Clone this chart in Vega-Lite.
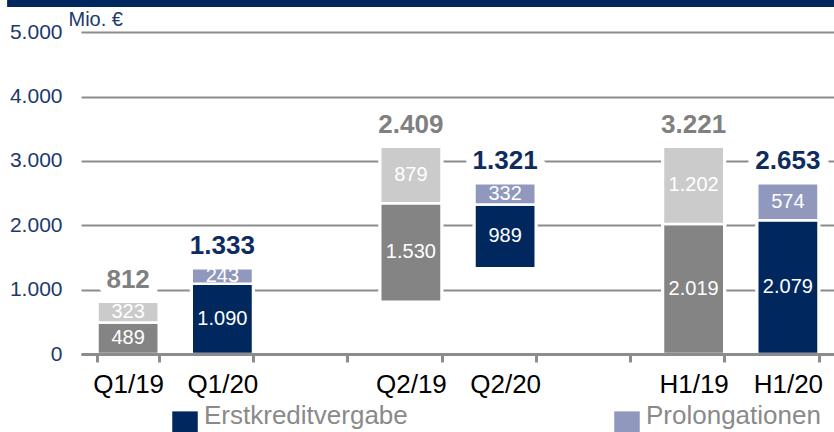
{
  "$schema": "https://vega.github.io/schema/vega-lite/v6.json",
  "width": 754,
  "height": 354,
  "autosize": {"type": "none"},
  "padding": {"left": 81, "top": 0, "right": 0, "bottom": 78},
  "background": "white",
  "config": {
    "locale": {"number": {"decimal": ",", "thousands": ".", "grouping": [3], "currency": ["", " €"]}},
    "font": "Liberation Sans",
    "view": {"stroke": null}
  },
  "datasets": {
    "segments": [
      {"period": "Q1/19", "year": 2019, "segment": "Erstkreditvergabe 2019", "value": 489},
      {"period": "Q1/19", "year": 2019, "segment": "Prolongationen 2019", "value": 323},
      {"period": "Q1/20", "year": 2020, "segment": "Erstkreditvergabe", "value": 1090},
      {"period": "Q1/20", "year": 2020, "segment": "Prolongationen", "value": 243},
      {"period": "Q2/19", "year": 2019, "segment": "Basis", "value": 812},
      {"period": "Q2/19", "year": 2019, "segment": "Erstkreditvergabe 2019", "value": 1530},
      {"period": "Q2/19", "year": 2019, "segment": "Prolongationen 2019", "value": 879},
      {"period": "Q2/20", "year": 2020, "segment": "Basis", "value": 1333},
      {"period": "Q2/20", "year": 2020, "segment": "Erstkreditvergabe", "value": 989},
      {"period": "Q2/20", "year": 2020, "segment": "Prolongationen", "value": 332},
      {"period": "H1/19", "year": 2019, "segment": "Erstkreditvergabe 2019", "value": 2019},
      {"period": "H1/19", "year": 2019, "segment": "Prolongationen 2019", "value": 1202},
      {"period": "H1/20", "year": 2020, "segment": "Erstkreditvergabe", "value": 2079},
      {"period": "H1/20", "year": 2020, "segment": "Prolongationen", "value": 574}
    ]
  },
  "layer": [
    {
      "data": {"values": [{"band": "top"}]},
      "mark": {"type": "rect", "color": "#00285e", "clip": false},
      "encoding": {
        "x": {"datum": -0.098, "type": "quantitative", "scale": {"domain": [0, 1]}, "axis": null},
        "x2": {"datum": 1.01},
        "y": {"datum": 5390, "type": "quantitative"},
        "y2": {"datum": 5500}
      }
    },
    {
      "data": {"name": "segments"},
      "transform": [
        {"stack": "value", "groupby": ["period"], "sort": [{"field": "segment", "order": "ascending"}], "as": ["v0", "v1"]},
        {"filter": "datum.segment !== 'Basis'"}
      ],
      "encoding": {
        "x": {
          "field": "period",
          "type": "nominal",
          "scale": {
            "domain": ["Q1/19", "Q1/20", "gap1", "Q2/19", "Q2/20", "gap2", "H1/19", "H1/20"],
            "paddingInner": 0.35,
            "paddingOuter": 0.175
          },
          "axis": {
            "title": null,
            "labelExpr": "substring(datum.label, 0, 3) === 'gap' ? '' : datum.label",
            "labelAngle": 0,
            "labelFontSize": 26,
            "labelColor": "#000000",
            "labelPadding": 9,
            "domainColor": "#8c8c8c",
            "domainWidth": 3,
            "tickColor": "#8c8c8c",
            "tickWidth": 3,
            "tickSize": 8,
            "tickBand": "extent",
            "grid": false,
            "zindex": 1
          }
        }
      },
      "layer": [
        {
          "mark": {"type": "bar", "fill": "white", "stroke": "white", "strokeWidth": 4},
          "encoding": {
            "y": {
              "field": "v0",
              "type": "quantitative",
              "scale": {"domain": [0, 5500], "nice": false},
              "axis": {
                "values": [0, 1000, 2000, 3000, 4000, 5000],
                "format": ",d",
                "grid": true,
                "gridColor": "#8c8c8c",
                "gridWidth": 2,
                "domain": false,
                "ticks": false,
                "labelFontSize": 21,
                "labelColor": "#1a3a6b",
                "labelPadding": 19,
                "title": "Mio. €",
                "titleAngle": 0,
                "titleFontSize": 20,
                "titleFontWeight": "normal",
                "titleColor": "#1a3a6b",
                "titleAlign": "left",
                "titleBaseline": "alphabetic",
                "titleX": -13,
                "titleY": 25,
                "zindex": 0
              }
            },
            "y2": {"field": "v1"}
          }
        },
        {
          "mark": {"type": "bar", "stroke": "white", "strokeWidth": 2.5},
          "encoding": {
            "y": {"field": "v0", "type": "quantitative"},
            "y2": {"field": "v1"},
            "color": {
              "field": "segment",
              "type": "nominal",
              "scale": {
                "domain": ["Erstkreditvergabe", "Prolongationen", "Erstkreditvergabe 2019", "Prolongationen 2019"],
                "range": ["#00285e", "#9098be", "#848484", "#cbcbcb"]
              },
              "legend": {
                "values": ["Erstkreditvergabe", "Prolongationen"],
                "orient": "none",
                "legendX": 91,
                "legendY": 411,
                "direction": "horizontal",
                "title": null,
                "symbolType": "square",
                "symbolSize": 650,
                "symbolStrokeWidth": 0,
                "labelFontSize": 26,
                "labelColor": "#8a8a8a",
                "labelLimit": 400,
                "labelOffset": 6,
                "labelBaseline": "alphabetic",
                "columnPadding": 206,
                "padding": 0
              }
            }
          }
        },
        {
          "transform": [{"calculate": "(datum.v0 + datum.v1) / 2", "as": "mid"}],
          "mark": {"type": "text", "color": "white", "fontSize": 20, "baseline": "middle"},
          "encoding": {
            "y": {"field": "mid", "type": "quantitative"},
            "text": {"field": "value", "type": "quantitative", "format": ",d"}
          }
        },
        {
          "transform": [{"aggregate": [{"op": "max", "field": "v1", "as": "top"}, {"op": "sum", "field": "value", "as": "total"}], "groupby": ["period", "year"]}],
          "mark": {"type": "text", "fontSize": 26, "fontWeight": "bold", "baseline": "alphabetic", "dy": -14, "fill": "white", "stroke": "white", "strokeWidth": 18, "strokeJoin": "round"},
          "encoding": {
            "y": {"field": "top", "type": "quantitative"},
            "text": {"field": "total", "type": "quantitative", "format": ",d"}
          }
        },
        {
          "transform": [{"aggregate": [{"op": "max", "field": "v1", "as": "top"}, {"op": "sum", "field": "value", "as": "total"}], "groupby": ["period", "year"]}],
          "mark": {"type": "text", "fontSize": 26, "fontWeight": "bold", "baseline": "alphabetic", "dy": -14},
          "encoding": {
            "y": {"field": "top", "type": "quantitative"},
            "text": {"field": "total", "type": "quantitative", "format": ",d"},
            "color": {"condition": {"test": "datum.year === 2019", "value": "#808080"}, "value": "#0e2c5e"}
          }
        }
      ]
    }
  ],
  "resolve": {"scale": {"x": "independent"}}
}
